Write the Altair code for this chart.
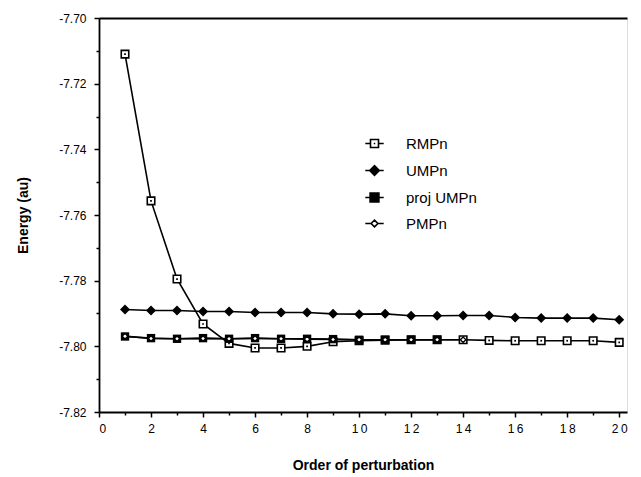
import altair as alt
import pandas as pd

# ---- data ----
order = list(range(1, 21))
rmpn = [-7.7110, -7.7557, -7.7795, -7.7932, -7.7991, -7.8005, -7.8005, -7.8000,
        -7.7986, -7.7983, -7.7981, -7.7980, -7.7980, -7.7980, -7.7982, -7.7983,
        -7.7983, -7.7983, -7.7983, -7.7988]
umpn = [-7.7888, -7.7891, -7.7891, -7.7894, -7.7894, -7.7897, -7.7897, -7.7897,
        -7.7901, -7.7902, -7.7901, -7.7907, -7.7907, -7.7906, -7.7906, -7.7912,
        -7.7914, -7.7914, -7.7914, -7.7919]
proj_order = list(range(1, 14))
proj_umpn = [-7.7970, -7.7975, -7.7977, -7.7975, -7.7977, -7.7975, -7.7977,
             -7.7977, -7.7978, -7.7980, -7.7980, -7.7980, -7.7980]
pmpn_order = list(range(1, 15))
pmpn = [-7.7969, -7.7976, -7.7977, -7.7976, -7.7977, -7.7976, -7.7977,
        -7.7978, -7.7979, -7.7980, -7.7980, -7.7980, -7.7980, -7.7980]

series_names = ["RMPn", "UMPn", "proj UMPn", "PMPn"]
x_major = list(range(0, 21, 2))
x_minor = list(range(1, 20, 2))
y_major = [-7.82, -7.80, -7.78, -7.76, -7.74, -7.72, -7.70]
y_minor = [-7.81, -7.79, -7.77, -7.75, -7.73, -7.71]

rows = []
for name, xs, ys in [("RMPn", order, rmpn), ("UMPn", order, umpn),
                     ("proj UMPn", proj_order, proj_umpn), ("PMPn", pmpn_order, pmpn)]:
    for xv, yv in zip(xs, ys):
        rows.append({"series": name, "order": xv, "energy": yv})
df = pd.DataFrame(rows)

W, H = 528, 394
XDOM = [0, 20.3]
YDOM = [-7.82, -7.70]
FONT = "Liberation Sans"


def xenc(axis):
    return alt.X("order:Q", scale=alt.Scale(domain=XDOM, nice=False, zero=False), axis=axis)


def yenc(axis):
    return alt.Y("energy:Q", scale=alt.Scale(domain=YDOM, nice=False, zero=False), axis=axis)


x_axis = alt.Axis(values=x_major, orient="bottom", tickSize=5, tickWidth=1.5, tickColor="black",
                  domainColor="black", domainWidth=1.8, grid=False,
                  labelFont=FONT, labelFontSize=12, labelColor="black", labelPadding=6,
                  labelExpr="datum.value >= 10 ? floor(datum.value/10) + '\u2009' + (datum.value % 10) : datum.label",
                  title="Order of perturbation", titleFont=FONT, titleFontSize=14,
                  titleFontWeight="bold", titleColor="black", titlePadding=24)
y_axis = alt.Axis(values=y_major, orient="left", tickSize=5, tickWidth=1.5, tickColor="black",
                  domainColor="black", domainWidth=1.8, grid=False,
                  labelFont=FONT, labelFontSize=12, labelColor="black", labelPadding=8,
                  labelExpr="'-' + format(abs(datum.value), '.2f')",
                  title="Energy (au)", titleFont=FONT, titleFontSize=14,
                  titleFontWeight="bold", titleColor="black", titlePadding=28)

base = alt.Chart(df)
XE = xenc(x_axis)
YE = yenc(y_axis)

lines = base.mark_line(color="black", strokeWidth=1.6).encode(
    x=XE, y=YE, detail="series:N", order="order:Q")

rm_pts = base.transform_filter(alt.datum.series == "RMPn").mark_point(
    shape="square", filled=True, fill="white", stroke="black", strokeWidth=1.6,
    size=56, opacity=1).encode(x=XE, y=YE)
rm_dots = base.transform_filter(alt.datum.series == "RMPn").mark_point(
    shape="square", filled=True, color="black", size=3, opacity=1).encode(x=XE, y=YE)
proj_pts = base.transform_filter(alt.datum.series == "proj UMPn").mark_point(
    shape="square", filled=True, color="black", size=70, opacity=1).encode(x=XE, y=YE)
pm_pts = base.transform_filter(alt.datum.series == "PMPn").mark_point(
    shape="diamond", filled=True, fill="white", stroke="black", strokeWidth=1.3,
    size=30, opacity=1).encode(x=XE, y=YE)
um_pts = base.transform_filter(alt.datum.series == "UMPn").mark_point(
    shape="diamond", filled=True, color="black", size=100, opacity=1).encode(x=XE, y=YE)

legend_paths = [
    "M-2.3,0H-1M1,0H2.3M-1,-1H1V1H-1ZM-0.18,0H0.18",
    "M-2.3,0H2.3M-1.2,0L0,-1.2L1.2,0L0,1.2Z",
    "M-2.3,0H2.3M-1.1,-1.1H1.1V1.1H-1.1Z",
    "M-2.3,0H-0.85M0.85,0H2.3M-0.85,0L0,-0.85L0.85,0L0,0.85Z",
]
legend_fills = ["white", "black", "black", "white"]
legend_strokes = ["black", "black", "black", "black"]
leg = alt.Legend(orient="none", legendX=268, legendY=118, title=None, padding=0,
                 labelFont=FONT, labelFontSize=15, labelColor="black", labelOffset=24,
                 symbolSize=64, symbolStrokeWidth=1.6,
                 rowPadding=10)
legend_layer = base.transform_filter("false").mark_point(
    filled=False, strokeWidth=1.6, size=64, opacity=1).encode(
    x=XE, y=YE,
    shape=alt.Shape("series:N", scale=alt.Scale(domain=series_names, range=legend_paths), legend=leg),
    fill=alt.Fill("series:N", scale=alt.Scale(domain=series_names, range=legend_fills), legend=leg),
    stroke=alt.Stroke("series:N", scale=alt.Scale(domain=series_names, range=legend_strokes), legend=leg),
)

data_layer = alt.layer(lines, rm_pts, rm_dots, proj_pts, pm_pts, um_pts, legend_layer)

minor_layer = base.mark_point(opacity=0).encode(
    x=xenc(alt.Axis(values=x_minor, orient="bottom", labels=False, domain=False, tickSize=3,
                    tickWidth=1.5, tickColor="black", grid=False, title=None)),
    y=yenc(alt.Axis(values=y_minor, orient="left", labels=False, domain=False, tickSize=3,
                    tickWidth=1.5, tickColor="black", grid=False, title=None)),
)

top_layer = base.mark_point(opacity=0).encode(
    x=xenc(alt.Axis(orient="top", labels=False, ticks=False, domain=True, domainColor="black",
                    domainWidth=1.8, grid=False, title=None)),
    y=yenc(alt.Axis(orient="right", labels=False, ticks=False, domain=False, grid=False, title=None)),
)

chart = alt.layer(data_layer, minor_layer, top_layer).resolve_scale(
    x="independent", y="independent"
).properties(
    width=W, height=H, padding={"left": 8, "top": 4, "right": 0, "bottom": 5}
).configure_view(stroke=None).configure(background="white")

chart.save("out.html", embed_options={"renderer": "svg", "actions": False})
